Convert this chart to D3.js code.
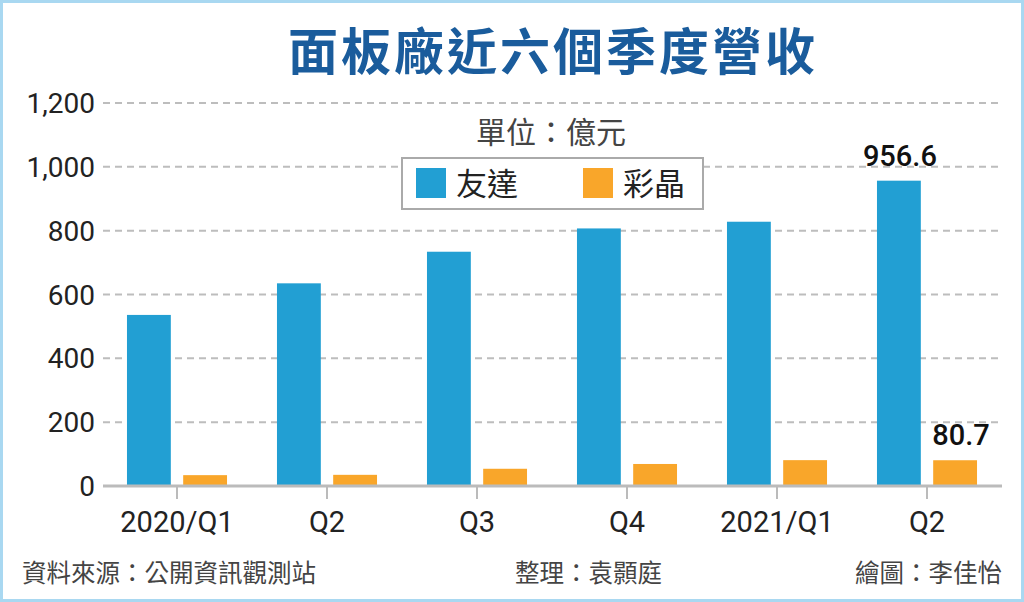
<!DOCTYPE html>
<html>
  <head>
    <meta charset="utf-8">
    <title>面板廠近六個季度營收</title>
    <script src="https://d3js.org/d3.v7.min.js"></script>
    <style>
      body { margin: 0; background: #fff; }
      text { font-family: "Noto Sans CJK TC", "Noto Sans", sans-serif; }
      .num { font-family: Roboto, "Noto Sans", sans-serif; }
    </style>
  </head>
  <body>
    <div id="chart"></div>
    <script>
      // data (unit: 億元)
      var quarters = ["2020/Q1", "Q2", "Q3", "Q4", "2021/Q1", "Q2"];
      var series = ["友達", "彩晶"];
      var auo = [536, 635, 734, 807, 828, 956.6];
      var hannstar = [34, 35, 54, 69, 81, 80.7];
      var yTicks = [0, 200, 400, 600, 800, 1000, 1200];

      var width = 1024;
      var height = 602;
      var colors = { "友達": "#229fd3", "彩晶": "#f9a62a" };

      var svg = d3.select("#chart")
        .append("svg")
        .attr("width", width)
        .attr("height", height);

      // light blue frame
      svg.append("rect")
        .attr("x", 1.5).attr("y", 1.5)
        .attr("width", width - 3).attr("height", height - 3)
        .style("fill", "#fff")
        .style("stroke", "#a9d8f1")
        .style("stroke-width", 3);

      var x = d3.scaleBand()
        .domain(d3.range(quarters.length))
        .range([102, 1002])
        .paddingInner(0.333)
        .paddingOuter(0.1665);

      var xSub = d3.scaleBand()
        .domain(series)
        .range([0, x.bandwidth()])
        .paddingInner(0.22);

      var y = d3.scaleLinear()
        .domain([0, 1200])
        .range([486, 103]);

      // dashed gridlines
      svg.append("g")
        .selectAll("line")
        .data(yTicks.filter(function(d) { return d > 0; }))
        .enter()
        .append("line")
        .attr("x1", 103)
        .attr("x2", 1001)
        .attr("y1", function(d) { return y(d); })
        .attr("y2", function(d) { return y(d); })
        .style("stroke", "#bdbdbd")
        .style("stroke-width", 2)
        .style("stroke-dasharray", "7,5");

      // y labels
      svg.append("g")
        .selectAll("text")
        .data(yTicks)
        .enter()
        .append("text")
        .attr("class", "num")
        .attr("x", 95)
        .attr("y", function(d) { return y(d); })
        .attr("dy", "0.36em")
        .attr("text-anchor", "end")
        .style("font-size", "28px")
        .style("fill", "#222")
        .text(d3.format(","));

      // "單位：億元"
      svg.append("text")
        .attr("x", 551)
        .attr("y", 143)
        .attr("text-anchor", "middle")
        .style("font-size", "30px")
        .style("fill", "#444")
        .text("單位：億元");

      // legend
      var legend = svg.append("g");
      legend.append("rect")
        .attr("x", 402).attr("y", 158)
        .attr("width", 301).attr("height", 51)
        .style("fill", "#fff")
        .style("stroke", "#aaa")
        .style("stroke-width", 2);
      var legendX = [416, 583];
      series.forEach(function(s, i) {
        legend.append("rect")
          .attr("x", legendX[i]).attr("y", 168)
          .attr("width", 30).attr("height", 30)
          .style("fill", colors[s]);
        legend.append("text")
          .attr("x", legendX[i] + 40)
          .attr("y", 195)
          .style("font-size", "31px")
          .style("fill", "#222")
          .text(s);
      });

      // bars
      var groups = svg.append("g")
        .selectAll("g")
        .data(quarters.map(function(q, i) {
          return [{ key: "友達", value: auo[i], i: i }, { key: "彩晶", value: hannstar[i], i: i }];
        }))
        .enter()
        .append("g")
        .attr("transform", function(d, i) { return "translate(" + x(i) + ",0)"; });

      groups.selectAll("rect")
        .data(function(d) { return d; })
        .enter()
        .append("rect")
        .attr("x", function(d) { return xSub(d.key); })
        .attr("y", function(d) { return y(d.value); })
        .attr("width", xSub.bandwidth())
        .attr("height", function(d) { return y(0) - y(d.value); })
        .style("fill", function(d) { return colors[d.key]; });

      // value labels on the last quarter
      var last = quarters.length - 1;
      var lastVals = [{ key: "友達", value: auo[last] }, { key: "彩晶", value: hannstar[last] }];
      svg.append("g")
        .selectAll("text")
        .data(lastVals)
        .enter()
        .append("text")
        .attr("class", "num")
        .attr("x", function(d) { return x(last) + xSub(d.key) + xSub.bandwidth() / 2 + (d.key == "彩晶" ? 6 : 1); })
        .attr("y", function(d) { return y(d.value) - 15; })
        .attr("text-anchor", "middle")
        .style("font-size", "29px")
        .style("font-weight", "500")
        .style("fill", "#111")
        .text(function(d) { return d.value; });

      // x axis
      var xAxis = d3.axisBottom(x)
        .tickSize(13)
        .tickPadding(12)
        .tickFormat(function(i) { return quarters[i]; });

      var gx = svg.append("g")
        .attr("transform", "translate(0," + y(0) + ")")
        .call(xAxis);
      gx.select(".domain")
        .attr("d", "M103,0H1002")
        .style("stroke", "#bbb")
        .style("stroke-width", 3);
      gx.selectAll(".tick line")
        .style("stroke", "#bbb")
        .style("stroke-width", 2);
      gx.selectAll(".tick text")
        .attr("class", "num")
        .style("font-family", "Roboto, sans-serif")
        .style("font-size", "29px")
        .style("fill", "#222");

      // footer
      var footer = [
        { t: "資料來源：公開資訊觀測站", x: 22, anchor: "start" },
        { t: "整理：袁顥庭", x: 515, anchor: "start" },
        { t: "繪圖：李佳怡", x: 1002, anchor: "end" }
      ];
      svg.append("g")
        .selectAll("text")
        .data(footer)
        .enter()
        .append("text")
        .attr("x", function(d) { return d.x; })
        .attr("y", 582)
        .attr("text-anchor", function(d) { return d.anchor; })
        .style("font-size", "24.5px")
        .style("fill", "#444")
        .text(function(d) { return d.t; });

      // title
      svg.append("text")
        .attr("x", 553)
        .attr("y", 70)
        .attr("text-anchor", "middle")
        .style("font-size", "50px")
        .style("font-weight", "700")
        .style("letter-spacing", "3px")
        .style("fill", "#1a5c9c")
        .text("面板廠近六個季度營收");
    </script>
  </body>
</html>
